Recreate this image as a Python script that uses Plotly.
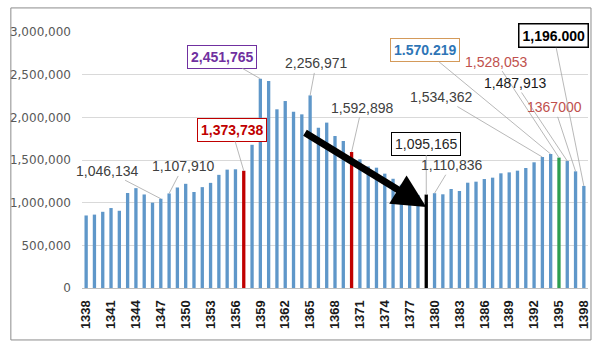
import plotly.graph_objects as go

years = list(range(1338, 1399))
values = [
    850000, 860000, 893000, 937000, 905000, 1113000, 1170000, 1096000, 1000000, 1046134,
    1107910, 1178000, 1221000, 1125000, 1182000, 1232000, 1326000, 1387000, 1391000, 1373738,
    1678000, 2451765, 2426000, 2094000, 2191000, 2066000, 2035000, 2256971, 1879000, 1938000,
    1781000, 1723000, 1592898, 1508000, 1425000, 1410000, 1340000, 1280000, 1210000, 1150000,
    1090000, 1095165, 1110836, 1098000, 1160000, 1137000, 1234000, 1246000, 1277000, 1293000,
    1344000, 1355000, 1375000, 1406000, 1473000, 1534362, 1570219, 1528053, 1487913, 1367000,
    1196000,
]
tick_years = years[::3]
y_ticks = [0, 500000, 1000000, 1500000, 2000000, 2500000, 3000000]

label_years = [1347, 1348, 1357, 1359, 1365, 1370, 1379, 1380, 1393, 1394, 1395, 1396, 1397, 1398]
label_texts = ["1,046,134", "1,107,910", "1,373,738", "2,451,765", "2,256,971", "1,592,898",
               "1,095,165", "1,110,836", "1,534,362", "1.570.219", "1,528,053", "1,487,913",
               "1367000", "1,196.000"]

# styles (separate from data)
BLUE = "#5F97C9"
highlight = {1357: "#C00000", 1370: "#C00000", 1379: "#000000", 1395: "#2E9E50"}
colors = [highlight.get(y, BLUE) for y in years]

# label styles: (dx, dy, color, bold, border, borderwidth)
label_style = {
    1347: (-54, -28, "#404040", False, None, 0),
    1348: (14, -27, "#404040", False, None, 0),
    1357: (-12, -41, "#C00000", True, "#C00000", 1),
    1359: (-38, -22, "#7030A0", True, "#7030A0", 1),
    1365: (6, -32, "#404040", False, None, 0),
    1370: (10, -44, "#404040", False, None, 0),
    1379: (0, -51, "#262626", False, "#000000", 1),
    1380: (17, -28, "#404040", False, None, 0),
    1393: (-101, -60, "#404040", False, None, 0),
    1394: (-126, -104, "#2E75B6", True, "#D49A5A", 1),
    1395: (-63, -96, "#C0504D", False, None, 0),
    1396: (-52, -78, "#1A1A1A", False, None, 0),
    1397: (-21, -64, "#C0504D", False, None, 0),
    1398: (-30, -150, "#000000", True, "#000000", 1.5),
}

fig = go.Figure()
fig.add_trace(go.Bar(x=years, y=values, marker=dict(color=colors, line=dict(width=0)),
                     width=0.4, hoverinfo="x+y"))

val_by_year = dict(zip(years, values))
annotations = []
for yr, txt in zip(label_years, label_texts):
    dx, dy, col, bold, border, bw = label_style[yr]
    a = dict(x=yr, y=val_by_year[yr], xref="x", yref="y",
             text=f"<b>{txt}</b>" if bold else txt,
             showarrow=True, arrowhead=0, arrowwidth=0.8, arrowcolor="#A6A6A6",
             ax=dx, ay=dy, standoff=0,
             font=dict(family="Liberation Sans, Arial", size=14, color=col))
    if border:
        a.update(bordercolor=border, borderwidth=bw, borderpad=3, bgcolor="white")
    annotations.append(a)

# big black arrow pointing to 1379
annotations.append(dict(x=1379, y=950000, xref="x", yref="y",
                        ax=1364.2, ay=1830000, axref="x", ayref="y",
                        text="", showarrow=True, arrowhead=2, arrowsize=0.95,
                        arrowwidth=7, arrowcolor="#000000", standoff=0))

fig.update_layout(
    width=601, height=345, autosize=False,
    margin=dict(l=79, r=10, t=32, b=57),
    paper_bgcolor="white", plot_bgcolor="white",
    showlegend=False, bargap=0.6,
    annotations=annotations,
    shapes=[dict(type="rect", xref="paper", yref="paper",
                 x0=-0.1406, x1=1.0059, y0=-0.203, y1=1.094,
                 line=dict(color="#8C8C8C", width=1), layer="below")],
    xaxis=dict(range=[1337.5, 1398.5], tickvals=tick_years,
               ticktext=[f"<b>{t}</b>" for t in tick_years],
               tickangle=-90, showgrid=False, zeroline=False,
               showline=True, linecolor="#BFBFBF", linewidth=1,
               ticks="", ticklabelstandoff=6,
               tickfont=dict(family="Liberation Sans, Arial", size=13, color="#1A1A1A")),
    yaxis=dict(range=[0, 3000000], tickvals=y_ticks,
               ticktext=[f"{v:,}" for v in y_ticks],
               showgrid=True, gridcolor="#D9D9D9", gridwidth=1, zeroline=False,
               showline=False, ticks="", ticklabelstandoff=10,
               tickfont=dict(family="DejaVu Sans", size=12, color="#595959")),
)

fig.write_html("out.html")
